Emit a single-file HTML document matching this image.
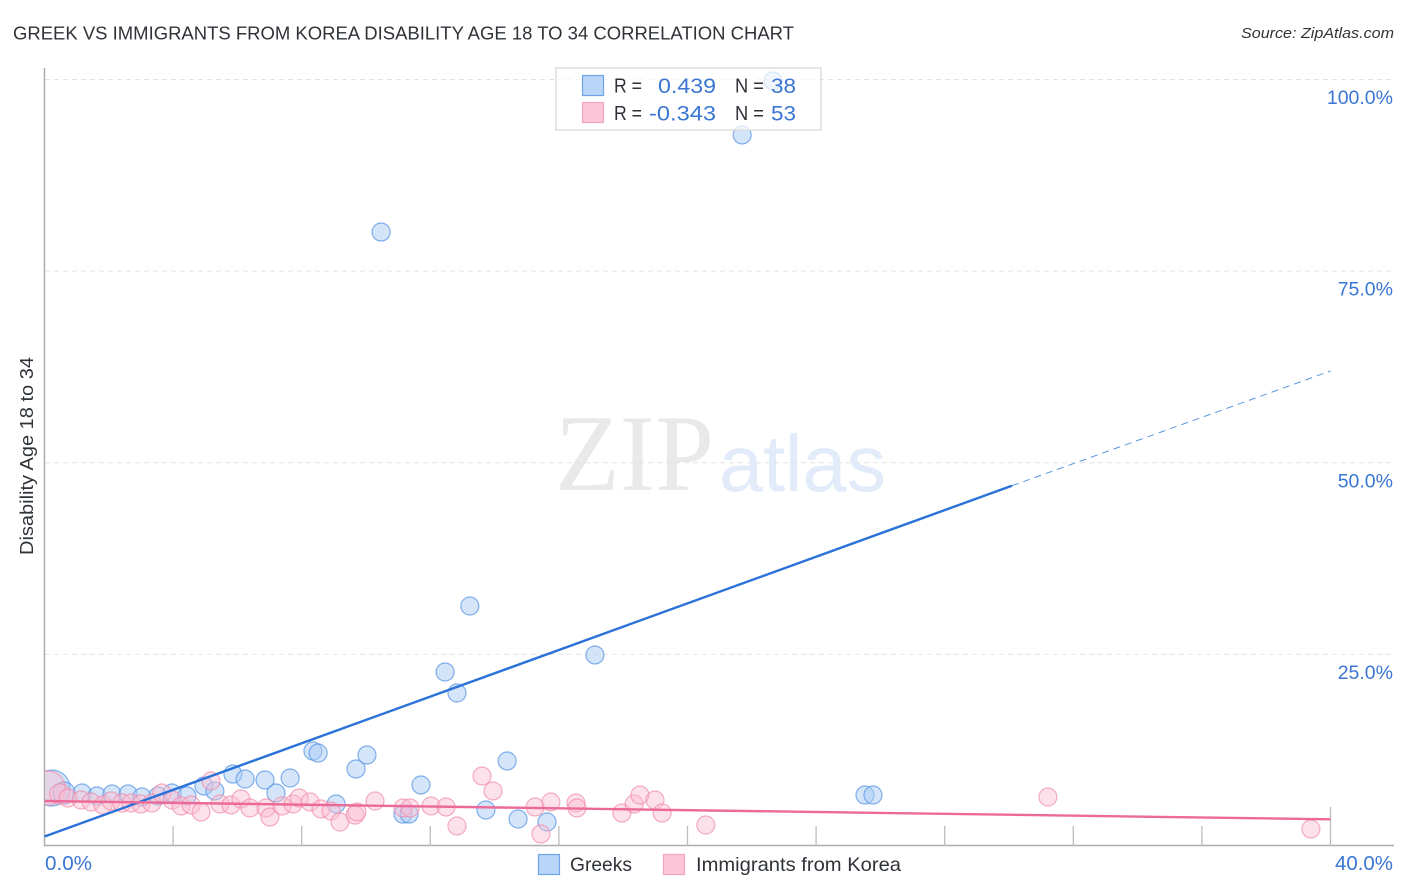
<!DOCTYPE html>
<html lang="en">
<head>
<meta charset="utf-8">
<title>Greek vs Immigrants from Korea Disability Age 18 to 34 Correlation Chart</title>
<style>
html,body{margin:0;padding:0;background:#fff;}
svg{display:block;font-family:"Liberation Sans",sans-serif;}
</style>
</head>
<body>
<svg id="chart" xmlns="http://www.w3.org/2000/svg" width="1406" height="892" viewBox="0 0 1406 892">
  <defs>
    <clipPath id="plot-clip"><rect x="45" y="60" width="1350" height="786"/></clipPath>
  </defs>
  <rect x="0" y="0" width="1406" height="892" fill="#ffffff"/>
  <text x="13" y="39.5" font-size="18.5" fill="#2f3338" textLength="781" lengthAdjust="spacingAndGlyphs">GREEK VS IMMIGRANTS FROM KOREA DISABILITY AGE 18 TO 34 CORRELATION CHART</text>
  <text x="1241" y="38" font-size="15" font-style="italic" fill="#333333" textLength="153" lengthAdjust="spacingAndGlyphs">Source: ZipAtlas.com</text>

  <g>
    <text x="555" y="490" font-family="'Liberation Serif',serif" font-size="109" fill="#e9e9e9" textLength="159" lengthAdjust="spacingAndGlyphs">ZIP</text>
    <text x="719" y="491" font-size="80" fill="#e1ebf9" textLength="167" lengthAdjust="spacingAndGlyphs">atlas</text>
  </g>

  <g id="grid"></g>
  <g id="axes">
    <line x1="44.5" y1="68" x2="44.5" y2="846" stroke="#aeaeae" stroke-width="1.5"/>
    <line x1="44" y1="845.5" x2="1394" y2="845.5" stroke="#aeaeae" stroke-width="1.5"/>
  </g>
  <g id="x-ticks"></g>
  <g id="y-labels"></g>
  <g id="x-labels"></g>
  <text transform="translate(33,456) rotate(-90)" text-anchor="middle" font-size="18" fill="#2f3338" textLength="198" lengthAdjust="spacingAndGlyphs">Disability Age 18 to 34</text>

  <g id="points" clip-path="url(#plot-clip)"></g>
  <g id="trends"></g>

  <g>
    <rect x="556" y="68" width="265" height="62" fill="#ffffff" fill-opacity="0.7" stroke="#dddddd" stroke-width="1.5"/>
    <rect x="582.5" y="75.5" width="21" height="20" fill="#b9d5f8" stroke="#6ea5e8" stroke-width="1.2"/>
    <rect x="582.5" y="102.5" width="21" height="20" fill="#fcc6d8" stroke="#f3a5bf" stroke-width="1.2"/>
    <text x="614" y="92.5" font-size="20" fill="#2f3338" textLength="28" lengthAdjust="spacingAndGlyphs">R =</text>
    <text x="658" y="93" font-size="21" fill="#3a76d2" textLength="58" lengthAdjust="spacingAndGlyphs">0.439</text>
    <text x="735" y="92.5" font-size="20" fill="#2f3338" textLength="29" lengthAdjust="spacingAndGlyphs">N =</text>
    <text x="771" y="93" font-size="21" fill="#3a76d2" textLength="25" lengthAdjust="spacingAndGlyphs">38</text>
    <text x="614" y="120" font-size="20" fill="#2f3338" textLength="28" lengthAdjust="spacingAndGlyphs">R =</text>
    <text x="649" y="120.5" font-size="21" fill="#3a76d2" textLength="67" lengthAdjust="spacingAndGlyphs">-0.343</text>
    <text x="735" y="120" font-size="20" fill="#2f3338" textLength="29" lengthAdjust="spacingAndGlyphs">N =</text>
    <text x="771" y="120.5" font-size="21" fill="#3a76d2" textLength="25" lengthAdjust="spacingAndGlyphs">53</text>
  </g>

  <g>
    <rect x="538.5" y="854.5" width="21" height="20" fill="#b9d5f8" stroke="#6ea5e8" stroke-width="1.2"/>
    <text x="570" y="871" font-size="19.5" fill="#2f3338" textLength="62" lengthAdjust="spacingAndGlyphs">Greeks</text>
    <rect x="663.5" y="854.5" width="21" height="20" fill="#fcc6d8" stroke="#f3a5bf" stroke-width="1.2"/>
    <text x="696" y="871" font-size="19.5" fill="#2f3338" textLength="205" lengthAdjust="spacingAndGlyphs">Immigrants from Korea</text>
  </g>
</svg>
<script>
const xTickValues = [0, 4, 8, 12, 16, 20, 24, 28, 32, 36, 40];
const yTickValues = [25, 50, 75, 100];
const yTickLabels = ['25.0%', '50.0%', '75.0%', '100.0%'];
const xEndValues = [0, 40];
const xEndLabels = ['0.0%', '40.0%'];

const greekX = [0.23,0.61,1.17,1.63,2.10,2.60,3.03,3.53,3.97,4.43,4.96,5.30,5.86,6.24,6.86,7.20,7.64,8.35,8.51,9.07,9.69,10.03,10.47,11.15,11.34,11.71,12.46,12.83,13.23,13.73,14.39,14.73,15.63,17.12,21.70,22.66,25.52,25.77];
const greekY = [7.57,6.91,6.91,6.52,6.78,6.78,6.39,6.52,6.91,6.52,7.83,7.18,9.39,8.74,8.61,6.91,8.87,12.39,12.13,5.48,10.05,11.87,80.10,4.17,4.17,7.96,22.70,19.96,31.31,4.70,11.09,3.52,3.13,24.92,92.76,99.80,6.65,6.65];
const greekWeight = [4,1.5,1,1,1,1,1,1,1,1,1,1,1,1,1,1,1,1,1,1,1,1,1,1,1,1,1,1,1,1,1,1,1,1,1,1,1,1];

const koreaX = [0.11,0.48,0.73,1.14,1.45,1.82,2.07,2.41,2.69,3.00,3.34,3.65,3.97,4.25,4.56,4.87,5.18,5.46,5.80,6.11,6.39,6.89,7.01,7.39,7.73,7.92,8.26,8.60,8.91,9.19,9.66,9.72,10.28,11.15,11.37,12.02,12.49,12.83,13.61,13.95,15.26,15.75,15.44,16.53,16.56,17.96,18.34,18.52,18.99,19.21,20.57,31.21,39.39];
const koreaY = [7.57,6.78,6.26,6.00,5.74,5.35,5.87,5.61,5.61,5.48,5.61,6.91,6.00,5.22,5.35,4.44,8.48,5.48,5.35,6.13,4.96,4.96,3.78,5.22,5.48,6.26,5.74,4.83,4.57,3.13,4.04,4.44,5.87,4.96,4.96,5.22,5.09,2.61,9.13,7.18,5.09,5.74,1.57,5.61,4.96,4.31,5.48,6.65,6.00,4.31,2.74,6.39,2.22];
const koreaWeight = [3.6,1.3,1,1,1,1,1,1,1,1,1,1,1,1,1,1,1,1,1,1,1,1,1,1,1,1,1,1,1,1,1,1,1,1,1,1,1,1,1,1,1,1,1,1,1,1,1,1,1,1,1,1,1];

const greekTrendX = [0, 30.09];
const greekTrendY = [1.24, 47.0];
const greekProjectionX = [30.09, 40];
const greekProjectionY = [47.0, 61.97];
const koreaTrendX = [0, 40];
const koreaTrendY = [5.87, 3.48];

const SVG_NS = 'http://www.w3.org/2000/svg';
function xScale(v) { return 44.5 + v * 32.15; }
function yScale(v) { return 846 - v * 7.665; }
function make(tag, attrs, parent) {
  const el = document.createElementNS(SVG_NS, tag);
  for (const k in attrs) el.setAttribute(k, attrs[k]);
  parent.appendChild(el);
  return el;
}

const gridG = document.getElementById('grid');
yTickValues.forEach(function (v) {
  const el = make('line', { x1: 45, x2: 1394, y1: yScale(v), y2: yScale(v), stroke: '#e2e2e2', 'stroke-width': 1, 'stroke-dasharray': '5 4' }, gridG);
  
  
});

const tickG = document.getElementById('x-ticks');
xTickValues.forEach(function (v) {
  if (v === 0) return;
  const top = v === 40 ? 807 : 826;
  const el = make('line', { x1: xScale(v), x2: xScale(v), y1: top, y2: 846, stroke: '#bdbdbd', 'stroke-width': 1.3 }, tickG);
  
  
});

const yLabelG = document.getElementById('y-labels');
yTickValues.forEach(function (v, i) {
  const el = make('text', { x: 1393, y: yScale(v) + 24.5, 'text-anchor': 'end', 'font-size': 19.5, fill: '#3a76d2' }, yLabelG);
  el.textContent = yTickLabels[i];
  
  
});

const xLabelG = document.getElementById('x-labels');
xEndValues.forEach(function (v, i) {
  const el = make('text', { x: i === 0 ? xScale(v) + 0.5 : 1335, y: 870, 'font-size': 20, fill: '#3a76d2', textLength: i === 0 ? 47 : 58, lengthAdjust: 'spacingAndGlyphs' }, xLabelG);
  el.textContent = xEndLabels[i];
  
  
});

const pointsG = document.getElementById('points');
greekX.forEach(function (x, i) {
  const el = make('circle', { cx: xScale(x), cy: yScale(greekY[i]), r: 9 * Math.sqrt(greekWeight[i]), fill: '#a9ccf6', 'fill-opacity': 0.5, stroke: '#5a97e4', 'stroke-opacity': 0.75, 'stroke-width': 1.2 }, pointsG);
  
  
});
koreaX.forEach(function (x, i) {
  const el = make('circle', { cx: xScale(x), cy: yScale(koreaY[i]), r: 9 * Math.sqrt(koreaWeight[i]), fill: '#fbbcd0', 'fill-opacity': 0.45, stroke: '#f08bab', 'stroke-opacity': 0.7, 'stroke-width': 1.2 }, pointsG);
  
  
});

const trendG = document.getElementById('trends');
const blueLine = make('line', { x1: xScale(greekTrendX[0]), y1: yScale(greekTrendY[0]), x2: xScale(greekTrendX[1]), y2: yScale(greekTrendY[1]), stroke: '#2a72d8', 'stroke-width': 2.4 }, trendG);


const blueDash = make('line', { x1: xScale(greekProjectionX[0]), y1: yScale(greekProjectionY[0]), x2: xScale(greekProjectionX[1]), y2: yScale(greekProjectionY[1]), stroke: '#5a97e4', 'stroke-width': 1, 'stroke-dasharray': '7 5' }, trendG);


const pinkLine = make('line', { x1: xScale(koreaTrendX[0]), y1: yScale(koreaTrendY[0]), x2: xScale(koreaTrendX[1]), y2: yScale(koreaTrendY[1]), stroke: '#ec6a97', 'stroke-width': 2.4 }, trendG);


</script>
</body>
</html>
